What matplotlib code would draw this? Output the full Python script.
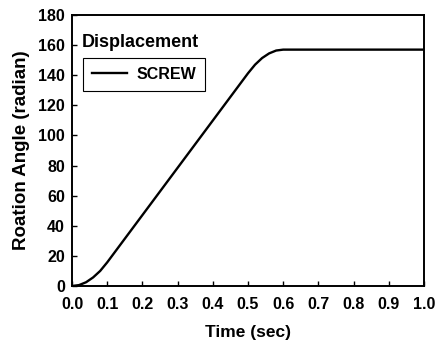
import matplotlib
matplotlib.use('Agg')
import matplotlib.pyplot as plt

# values
time_sec = [0.0, 0.02, 0.04, 0.06, 0.08, 0.10, 0.15, 0.20, 0.30, 0.40, 0.50,
            0.52, 0.54, 0.56, 0.58, 0.60, 0.80, 1.0]
screw_angle = [0.0, 0.6, 2.5, 5.7, 10.0, 15.7, 31.4, 47.1, 78.5, 109.9, 141.3,
               147.0, 151.4, 154.5, 156.4, 157.0, 157.0, 157.0]

plt.rcParams['font.family'] = ['Liberation Sans', 'DejaVu Sans']
plt.rcParams['font.weight'] = 'bold'

fig = plt.figure(figsize=(4.42, 3.45), dpi=100)
ax = fig.add_axes([72 / 442, 1 - 286 / 345, (424 - 72) / 442, (286 - 15) / 345])

ax.plot(time_sec, screw_angle, color='black', lw=1.7, label='SCREW')

ax.set_xlim(0, 1.0)
ax.set_ylim(0, 180)
ax.set_xticks([i / 10 for i in range(11)])
ax.set_yticks(range(0, 181, 20))
ax.xaxis.set_major_formatter(matplotlib.ticker.StrMethodFormatter('{x:.1f}'))
ax.tick_params(direction='in', length=3.5, width=1, labelsize=11.5, pad=5)
ax.tick_params(axis='x', pad=8)
for s in ax.spines.values():
    s.set_linewidth(1.4)

ax.set_xlabel('Time (sec)', fontsize=12.5, fontweight='bold', labelpad=9)
ax.set_ylabel('Roation Angle (radian)', fontsize=13.5, fontweight='bold', labelpad=6)

ax.text(0.028, 0.90, 'Displacement', transform=ax.transAxes, fontsize=13,
        fontweight='bold', va='center', ha='left')
leg = ax.legend(loc='upper left', bbox_to_anchor=(0.031, 0.841), fancybox=False,
                edgecolor='black', framealpha=1, fontsize=11.5, borderpad=0.55,
                handlelength=2.2, handletextpad=0.62, borderaxespad=0)
leg.get_frame().set_linewidth(0.8)

fig.savefig('out.png', dpi=100)
